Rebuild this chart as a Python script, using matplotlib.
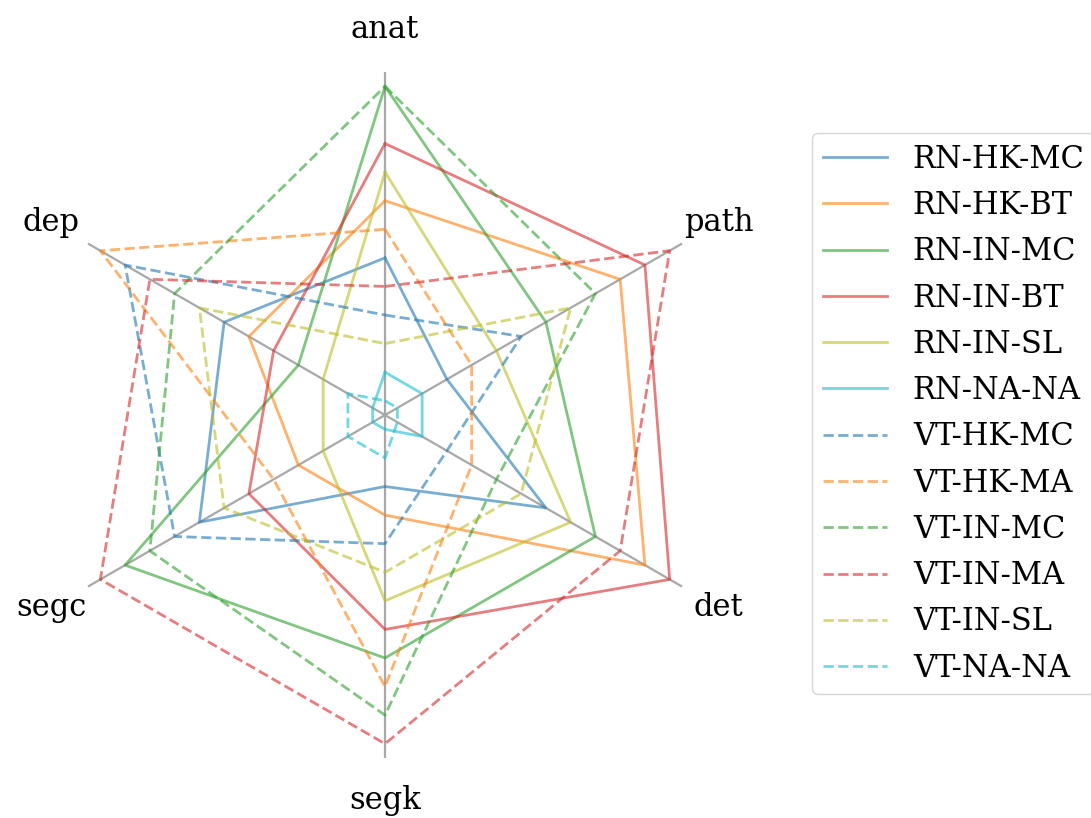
import numpy as np
import matplotlib
matplotlib.use("Agg")
import matplotlib.pyplot as plt

# rank of each method on every task (1 = lowest, 12 = highest)
tasks = ["anat", "path", "det", "segk", "segc", "dep"]

methods = ["RN-HK-MC", "RN-HK-BT", "RN-IN-MC", "RN-IN-BT", "RN-IN-SL", "RN-NA-NA",
           "VT-HK-MC", "VT-HK-MA", "VT-IN-MC", "VT-IN-MA", "VT-IN-SL", "VT-NA-NA"]

rn_hk_mc = [6, 3, 7, 3, 8, 7]
rn_hk_bt = [8, 10, 11, 4, 4, 6]
rn_in_mc = [12, 7, 9, 9, 11, 4]
rn_in_bt = [10, 11, 12, 8, 6, 5]
rn_in_sl = [9, 5, 8, 7, 3, 3]
rn_na_na = [2, 2, 2, 1, 1, 1]
vt_hk_mc = [4, 6, 3, 5, 9, 11]
vt_hk_ma = [7, 4, 4, 10, 5, 12]
vt_in_mc = [12, 9, 5, 11, 10, 9]
vt_in_ma = [5, 12, 10, 12, 12, 10]
vt_in_sl = [3, 8, 6, 6, 7, 8]
vt_na_na = [1, 1, 1, 2, 2, 2]

ranks = [rn_hk_mc, rn_hk_bt, rn_in_mc, rn_in_bt, rn_in_sl, rn_na_na,
         vt_hk_mc, vt_hk_ma, vt_in_mc, vt_in_ma, vt_in_sl, vt_na_na]

colors = ["tab:blue", "tab:orange", "tab:green", "tab:red", "tab:olive", "tab:cyan"] * 2
styles = ["-"] * 6 + ["--"] * 6

angles = np.linspace(0, 2 * np.pi, len(tasks), endpoint=False)
closed = np.append(angles, angles[0])

fig = plt.figure(figsize=(10.91, 8.18), dpi=100)
ax = fig.add_axes([0.0385, 0.0733, 0.6288, 0.8386], polar=True)
ax.set_theta_offset(np.pi / 2)
ax.set_theta_direction(-1)

for name, vals, c, ls in zip(methods, ranks, colors, styles):
    ax.plot(closed, vals + vals[:1], color=c, linestyle=ls, linewidth=2,
            alpha=0.6, label=name)

ax.set_ylim(0.5, 12.5)
ax.set_yticks([])
ax.yaxis.grid(False)
ax.spines["polar"].set_visible(False)
ax.set_xticks(angles)
ax.set_xticklabels(tasks, family="DejaVu Serif", fontsize=22)
ax.xaxis.grid(True, color="#a8a8a8", linewidth=1.6)
ax.tick_params(axis="x", pad=20)

fig.legend(loc="upper left", bbox_to_anchor=(0.7443, 0.8374), borderaxespad=0,
           prop={"family": "DejaVu Serif", "size": 22}, borderpad=0.35,
           labelspacing=0.5, handlelength=2.1, handletextpad=0.85)

fig.savefig("out.png", dpi=100)
